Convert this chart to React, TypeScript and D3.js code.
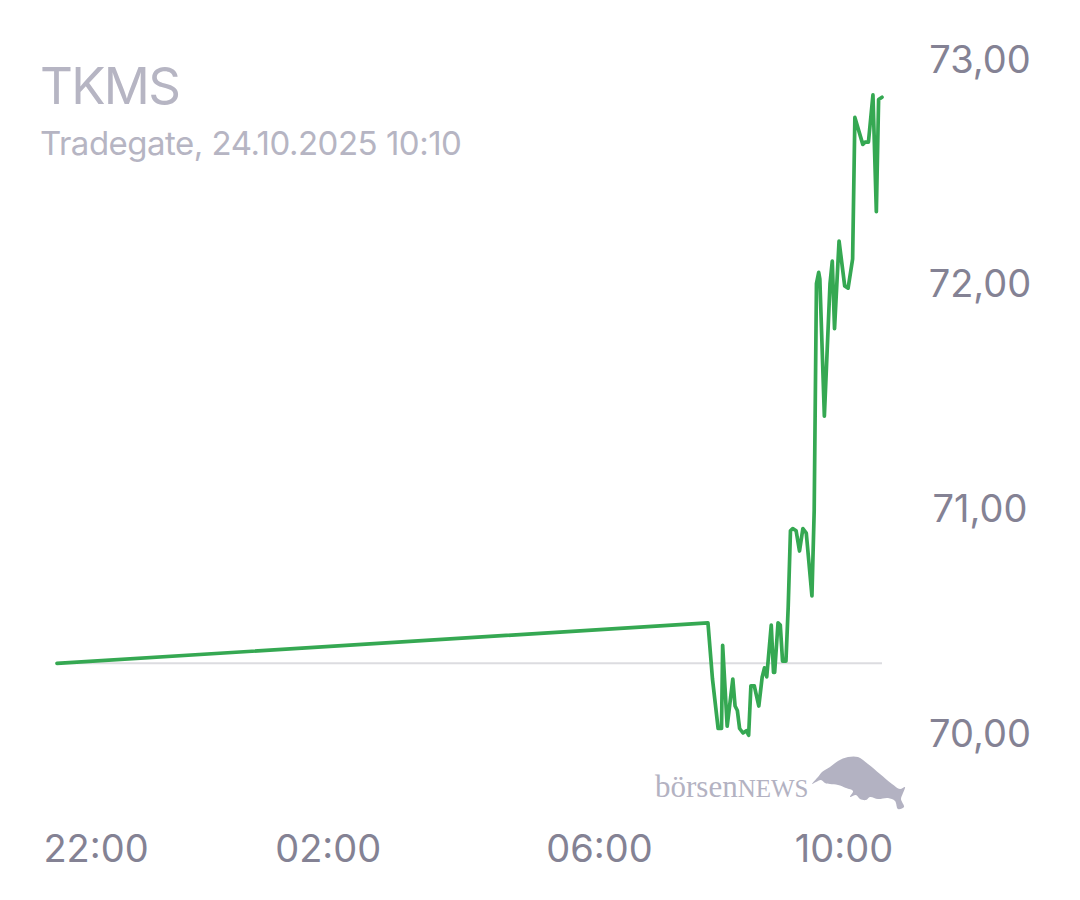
import React from "react";
import * as d3 from "d3";

const times: string[] = [
  "2025-10-23 22:00", "2025-10-24 07:36", "2025-10-24 07:40", "2025-10-24 07:45", "2025-10-24 07:48",
  "2025-10-24 07:49", "2025-10-24 07:53", "2025-10-24 07:58", "2025-10-24 08:00", "2025-10-24 08:02",
  "2025-10-24 08:04", "2025-10-24 08:07", "2025-10-24 08:10", "2025-10-24 08:12", "2025-10-24 08:14",
  "2025-10-24 08:17", "2025-10-24 08:21", "2025-10-24 08:24", "2025-10-24 08:26", "2025-10-24 08:28",
  "2025-10-24 08:32", "2025-10-24 08:34", "2025-10-24 08:35", "2025-10-24 08:38", "2025-10-24 08:40",
  "2025-10-24 08:42", "2025-10-24 08:45", "2025-10-24 08:47", "2025-10-24 08:49", "2025-10-24 08:51",
  "2025-10-24 08:54", "2025-10-24 08:57", "2025-10-24 09:00", "2025-10-24 09:03", "2025-10-24 09:08",
  "2025-10-24 09:10", "2025-10-24 09:12", "2025-10-24 09:14", "2025-10-24 09:15", "2025-10-24 09:19",
  "2025-10-24 09:24", "2025-10-24 09:26", "2025-10-24 09:28", "2025-10-24 09:32", "2025-10-24 09:37",
  "2025-10-24 09:40", "2025-10-24 09:44", "2025-10-24 09:46", "2025-10-24 09:53", "2025-10-24 09:55",
  "2025-10-24 09:58", "2025-10-24 10:02", "2025-10-24 10:05", "2025-10-24 10:07", "2025-10-24 10:10",
];

const prices: number[] = [
  70.31, 70.49, 70.24, 70.02, 70.02,
  70.39, 70.03, 70.24, 70.12, 70.10,
  70.02, 70.00, 70.01, 69.99, 70.21,
  70.21, 70.12, 70.25, 70.29, 70.25,
  70.48, 70.27, 70.27, 70.49, 70.48,
  70.32, 70.32, 70.56, 70.90, 70.91,
  70.90, 70.81, 70.91, 70.89, 70.61,
  70.99, 72.00, 72.05, 72.02, 71.41,
  72.00, 72.10, 71.80, 72.19, 71.99,
  71.98, 72.11, 72.74, 72.62, 72.63,
  72.63, 72.84, 72.32, 72.82, 72.83,
];

const previousClose = 70.31;
const yTicks: number[] = [70, 71, 72, 73];
const xTickTimes: string[] = ["2025-10-23 22:00", "2025-10-24 02:00", "2025-10-24 06:00", "2025-10-24 10:00"];
const xTickLabels: string[] = ["22:00", "02:00", "06:00", "10:00"];
const title = "TKMS";
const subtitle = "Tradegate, 24.10.2025 10:10";

const parse = d3.timeParse("%Y-%m-%d %H:%M");

export default function App() {
  const W = 1080;
  const H = 900;
  const data = times.map((t, i) => ({ t: parse(t) as Date, v: prices[i] }));
  const x = d3
    .scaleTime()
    .domain([parse(times[0]) as Date, parse(times[times.length - 1]) as Date])
    .range([57, 882]);
  const y = d3.scaleLinear().domain([70, 73]).range([733, 59]);

  const line = d3
    .line<{ t: Date; v: number }>()
    .x((d) => x(d.t))
    .y((d) => y(d.v));

  const axisColor = "#848294";
  const titleColor = "#b6b5c3";
  const font = "Inter, 'Noto Sans', sans-serif";
  const labelMin = 45;
  const labelMax = 895;

  const bullPts: [number, number][] = [
    [812, 784], [818, 777], [822, 772], [830, 767], [838, 761], [848, 757], [858, 757],
    [868, 764], [880, 774], [892, 784], [900, 789], [905, 787], [903, 793], [901, 799],
    [904, 807], [898, 809], [895, 801], [888, 798], [878, 799], [870, 797], [866, 800],
    [860, 799], [856, 795], [850, 797], [853, 791], [846, 788], [838, 785], [830, 784],
    [825, 783], [821, 780], [816, 782],
  ];
  const bullPath = d3.line().curve(d3.curveCatmullRomClosed.alpha(0.5))(bullPts) || "";

  return (
    <svg
      width={W}
      height={H}
      style={{ position: "absolute", left: 0, top: 0, background: "#fff" }}
    >
      <text x={40} y={104} fill={titleColor} fontFamily={font} fontSize={51} letterSpacing={-1.7}>
        {title}
      </text>
      <text x={40} y={155} fill={titleColor} fontFamily={font} fontSize={33} letterSpacing={-0.5}>
        {subtitle}
      </text>

      {yTicks.map((v) => (
        <text
          key={v}
          x={980}
          y={y(v)}
          dy="0.36em"
          textAnchor="middle"
          fill={axisColor}
          fontFamily={font}
          fontSize={38}
        >
          {d3.format(".2f")(v).replace(".", ",")}
        </text>
      ))}

      {xTickTimes.map((t, i) => {
        const px = x(parse(t) as Date);
        const half = 51;
        const cx = Math.min(Math.max(px, labelMin + half), labelMax - half);
        return (
          <text
            key={t}
            x={cx}
            y={862}
            textAnchor="middle"
            fill={axisColor}
            fontFamily={font}
            fontSize={38}
          >
            {xTickLabels[i]}
          </text>
        );
      })}

      <line
        x1={x(data[0].t)}
        x2={x(data[data.length - 1].t)}
        y1={y(previousClose)}
        y2={y(previousClose)}
        stroke="#dcdce0"
        strokeWidth={2}
      />

      <path
        d={line(data) || ""}
        fill="none"
        stroke="#35a852"
        strokeWidth={3.7}
        strokeLinejoin="round"
        strokeLinecap="round"
      />

      <g fill="#b3b2c2">
        <text x={655} y={797} fontFamily="'Liberation Serif', serif" fontSize={31}>
          börsen
          <tspan fontSize={25}>NEWS</tspan>
        </text>
        <path d={bullPath} />
      </g>
    </svg>
  );
}
